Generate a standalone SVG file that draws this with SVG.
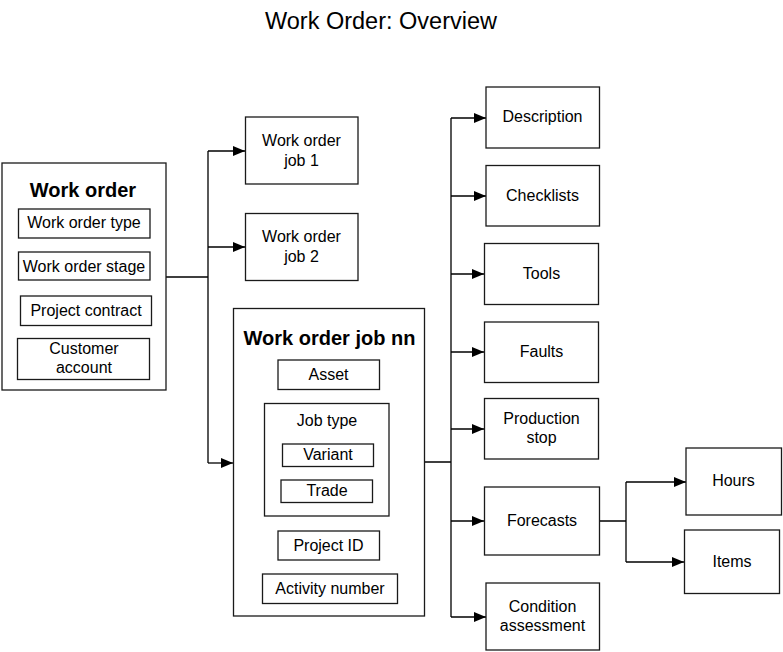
<svg xmlns="http://www.w3.org/2000/svg" width="783" height="652" viewBox="0 0 783 652">
<defs>
<marker id="arr" markerUnits="userSpaceOnUse" markerWidth="12" markerHeight="10" viewBox="0 0 12 10" refX="12" refY="5" orient="auto">
<path d="M0,0 L12,5 L0,10 z" fill="#000"/>
</marker>
<style>
text{font-family:"Liberation Sans",Arial,sans-serif;fill:#000;text-anchor:middle;font-size:16px}
.t{font-size:23.5px}
.b{font-size:20px;font-weight:bold}
rect{fill:#fff;stroke:#1a1a1a;stroke-width:1.3}
.c path{fill:none;stroke:#000;stroke-width:1.3}
</style>
</defs>
<rect x="0" y="0" width="783" height="652" style="stroke:none;fill:#fff"/>
<text class="t" x="381" y="29">Work Order: Overview</text>

<g class="c" id="connectors">
<path d="M166,277 H208 M208,151 V463"/>
<path d="M208,151 H245" marker-end="url(#arr)"/>
<path d="M208,247 H245" marker-end="url(#arr)"/>
<path d="M208,463 H233" marker-end="url(#arr)"/>
<path d="M424,462 H451 M451,118 V617"/>
<path d="M451,118 H486" marker-end="url(#arr)"/>
<path d="M451,196 H486" marker-end="url(#arr)"/>
<path d="M451,274 H484" marker-end="url(#arr)"/>
<path d="M451,352 H484" marker-end="url(#arr)"/>
<path d="M451,429 H484" marker-end="url(#arr)"/>
<path d="M451,521 H484" marker-end="url(#arr)"/>
<path d="M451,617 H486" marker-end="url(#arr)"/>
<path d="M599,521 H626 M626,482 V562"/>
<path d="M626,482 H686" marker-end="url(#arr)"/>
<path d="M626,562 H684" marker-end="url(#arr)"/>
</g>

<g id="work-order">
<rect x="2" y="163" width="164" height="227"/>
<text class="b" x="83" y="197">Work order</text>
<rect x="18.5" y="209" width="131.5" height="29"/>
<text x="84" y="228">Work order type</text>
<rect x="18.5" y="252" width="131.5" height="28"/>
<text x="84" y="272">Work order stage</text>
<rect x="20.5" y="296" width="131" height="29.5"/>
<text x="86" y="316">Project contract</text>
<rect x="17.5" y="338.5" width="132" height="41"/>
<text x="84" y="354">Customer</text>
<text x="84" y="373">account</text>
</g>

<g id="job1">
<rect x="245.5" y="117" width="112.5" height="67"/>
<text x="301.5" y="146">Work order</text>
<text x="301.5" y="166">job 1</text>
</g>

<g id="job2">
<rect x="245.5" y="213.5" width="112.5" height="67"/>
<text x="301.5" y="242">Work order</text>
<text x="301.5" y="262">job 2</text>
</g>

<g id="job-nn">
<rect x="233.5" y="308.5" width="191" height="307.5"/>
<text class="b" x="329.5" y="345">Work order job nn</text>
<rect x="278" y="360" width="101.5" height="29.5"/>
<text x="328.5" y="380">Asset</text>
<rect x="264.5" y="403.5" width="124.5" height="112.5"/>
<text x="327" y="426">Job type</text>
<rect x="282.5" y="444" width="91" height="22.5"/>
<text x="328" y="460">Variant</text>
<rect x="281" y="480" width="91.5" height="22.5"/>
<text x="327" y="496">Trade</text>
<rect x="278" y="531" width="101.5" height="29"/>
<text x="328.5" y="551">Project ID</text>
<rect x="262.5" y="574" width="135" height="29.5"/>
<text x="330" y="594">Activity number</text>
</g>

<g id="description">
<rect x="486" y="87" width="113.5" height="61"/>
<text x="542.5" y="122">Description</text>
</g>
<g id="checklists">
<rect x="486" y="165.5" width="113.5" height="60.5"/>
<text x="542.5" y="201">Checklists</text>
</g>
<g id="tools">
<rect x="484.5" y="243.5" width="114" height="61"/>
<text x="541.5" y="279">Tools</text>
</g>
<g id="faults">
<rect x="484.5" y="322" width="114" height="60.5"/>
<text x="541.5" y="357">Faults</text>
</g>
<g id="production-stop">
<rect x="484.5" y="398.5" width="114" height="60.5"/>
<text x="541.5" y="424">Production</text>
<text x="541.5" y="443">stop</text>
</g>
<g id="forecasts">
<rect x="484.5" y="487" width="115" height="68"/>
<text x="542" y="526">Forecasts</text>
</g>
<g id="condition-assessment">
<rect x="486" y="583" width="113.5" height="67"/>
<text x="542.5" y="612">Condition</text>
<text x="542.5" y="631">assessment</text>
</g>
<g id="hours">
<rect x="686" y="448" width="95.5" height="67"/>
<text x="733.5" y="486">Hours</text>
</g>
<g id="items">
<rect x="684.5" y="530" width="95" height="63.5"/>
<text x="732" y="567">Items</text>
</g>
</svg>
